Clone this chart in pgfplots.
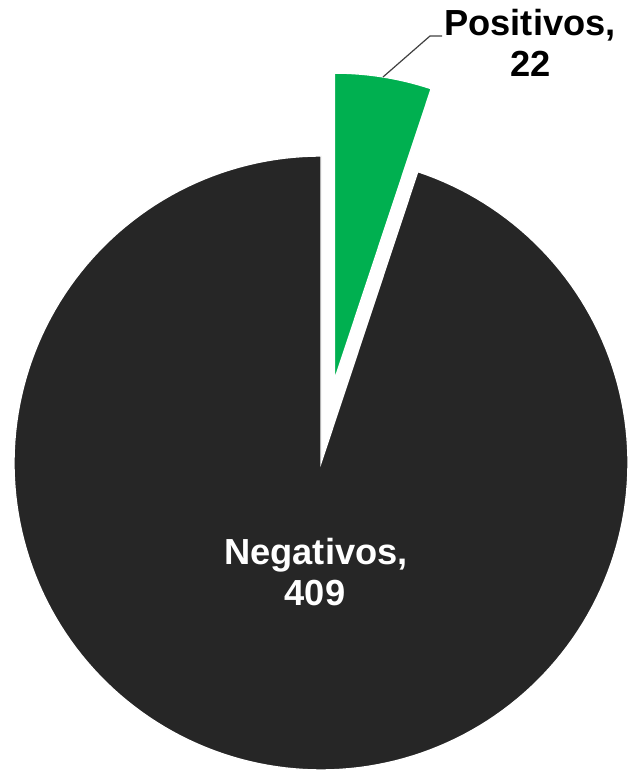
\documentclass[border=0pt]{standalone}
\usepackage{pgfplots}
\usepackage{pgfplotstable}
\pgfplotsset{compat=1.18}
\usepackage{fontspec}
\setmainfont{Liberation Sans}
\definecolor{darkslice}{HTML}{262626}
\definecolor{greenslice}{HTML}{00B050}
\pgfplotstableread{
label value
Negativos 409
Positivos 22
}\piedata
\pgfplotstablegetelem{0}{value}\of\piedata \let\vNeg\pgfplotsretval
\pgfplotstablegetelem{1}{value}\of\piedata \let\vPos\pgfplotsretval
\pgfmathsetmacro{\total}{\vNeg+\vPos}
\pgfmathsetmacro{\posStart}{90-360*\vPos/\total}
\pgfmathsetmacro{\negStart}{90-360}
\pgfmathsetmacro{\posMid}{(\posStart+90)/2}
% centres in pixel units
\def\cx{321}\def\cy{309}\def\rad{307}
\pgfmathsetmacro{\gx}{\cx+84*cos(\posMid)}
\pgfmathsetmacro{\gy}{\cy+84*sin(\posMid)}
\begin{document}
\begin{tikzpicture}
\begin{axis}[
  width=469.5pt, height=579pt, scale only axis,
  xmin=0, xmax=626, ymin=0, ymax=772,
  hide axis, clip=false,
]
\addplot[draw=none] coordinates {(0,0) (626,772)};
% Negativos slice
\addplot[fill=darkslice, draw=white, line width=1pt, domain=\negStart:\posStart, samples=200, variable=\t]
  ({\cx+\rad*cos(\t)}, {\cy+\rad*sin(\t)}) -- (axis cs:\cx,\cy) -- cycle;
% Positivos slice (exploded)
\addplot[fill=greenslice, draw=white, line width=1pt, domain=\posStart:90, samples=40, variable=\t]
  ({\gx+\rad*cos(\t)}, {\gy+\rad*sin(\t)}) -- (axis cs:\gx,\gy) -- cycle;
% leader line
\addplot[black!75, line width=0.9pt] coordinates {(383,695) (430,736) (442,736)};
\node[anchor=base, text=black, font=\fontsize{27.2}{32}\selectfont\bfseries] at (axis cs:530,736) {Positivos,};
\node[anchor=base, text=black, font=\fontsize{27.2}{32}\selectfont\bfseries] at (axis cs:531,695) {22};
\node[anchor=base, text=white, font=\fontsize{27.2}{32}\selectfont\bfseries] at (axis cs:316,207) {Negativos,};
\node[anchor=base, text=white, font=\fontsize{27.2}{32}\selectfont\bfseries] at (axis cs:315,166) {409};
\end{axis}
\end{tikzpicture}
\end{document}
